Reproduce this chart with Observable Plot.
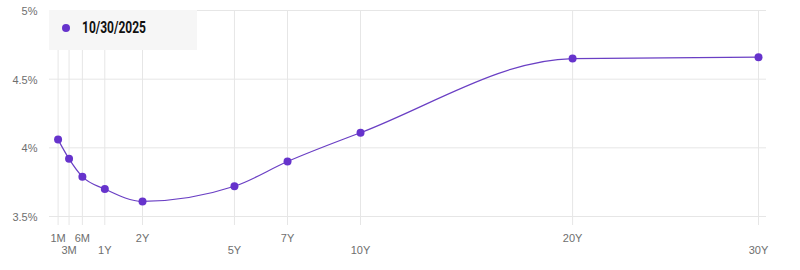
<!DOCTYPE html>
<html>
<head>
<meta charset="utf-8">
<script src="https://cdn.jsdelivr.net/npm/d3@7"></script>
<script src="https://cdn.jsdelivr.net/npm/@observablehq/plot@0.6"></script>
<style>
  body { margin: 0; background: #fff; }
  #wrap { position: relative; width: 800px; height: 270px; }
  #legend {
    position: absolute; left: 49px; top: 10px; width: 148px; height: 40px;
    background: #f6f6f6; box-sizing: border-box;
    font-family: "Roboto", "Liberation Sans", sans-serif;
    font-weight: bold; font-size: 16px; color: #111;
  }
  #legend .dot { position: absolute; left: 13px; top: 14px; width: 8px; height: 8px; border-radius: 50%; background: #6633cc; }
  #legend .lab { position: absolute; left: 33px; top: 9px; line-height: 18px; white-space: nowrap; transform-origin: 0 50%; }
</style>
</head>
<body>
<div id="wrap"><div id="chart"></div><div id="legend"><span class="dot"></span><span class="lab"></span></div></div>
<script>
const seriesName = "10/30/2025";
const tenorLabels = ["1M", "3M", "6M", "1Y", "2Y", "5Y", "7Y", "10Y", "20Y", "30Y"];
const tenorYears = [1/12, 0.25, 0.5, 1, 2, 5, 7, 10, 20, 30];
const yields = [4.06, 3.92, 3.79, 3.70, 3.61, 3.72, 3.90, 4.11, 4.65, 4.66];
const yTicks = [3.5, 4, 4.5, 5];

const data = tenorLabels.map((label, i) => ({label, t: tenorYears[i], y: yields[i], row: i % 2}));
const purple = "#6633cc";
const axisFont = {fontFamily: "'Liberation Sans', Arial, sans-serif", fontSize: 11, fill: "#6e6e6e"};

const chart = Plot.plot({
  width: 800,
  height: 270,
  marginLeft: 49,
  marginRight: 42,
  marginTop: 10,
  marginBottom: 54,
  style: {fontFamily: "'Liberation Sans', Arial, sans-serif", fontSize: "11px", color: "#6e6e6e", background: "#fff"},
  x: {type: "pow", exponent: 0.75, domain: [0, 30], axis: null},
  y: {domain: [3.5, 5], axis: null},
  marks: [
    Plot.ruleY(yTicks, {stroke: "#e6e6e6", strokeWidth: 1, insetRight: -8}),
    Plot.ruleX(data, {x: "t", stroke: "#e6e6e6", strokeWidth: 1, insetBottom: -9}),
    Plot.text(yTicks, {x: 0, y: d => d, text: d => d + "%", textAnchor: "end", dx: -12, dy: 1, ...axisFont}),
    Plot.text(data.filter(d => d.row === 0), {x: "t", text: "label", frameAnchor: "bottom", lineAnchor: "middle", dy: 22, ...axisFont}),
    Plot.text(data.filter(d => d.row === 1), {x: "t", text: "label", frameAnchor: "bottom", lineAnchor: "middle", dy: 34, ...axisFont}),
    Plot.line(data, {x: "t", y: "y", curve: "monotone-x", stroke: "#6a3fc4", strokeWidth: 1.2}),
    Plot.dot(data, {x: "t", y: "y", r: 4, fill: purple, stroke: "none"})
  ]
});
document.getElementById("chart").appendChild(chart);
const lab = document.querySelector("#legend .lab");
lab.textContent = seriesName;
const w = lab.getBoundingClientRect().width;
if (w > 0) lab.style.transform = `scaleX(${64 / w})`;
</script>
</body>
</html>
